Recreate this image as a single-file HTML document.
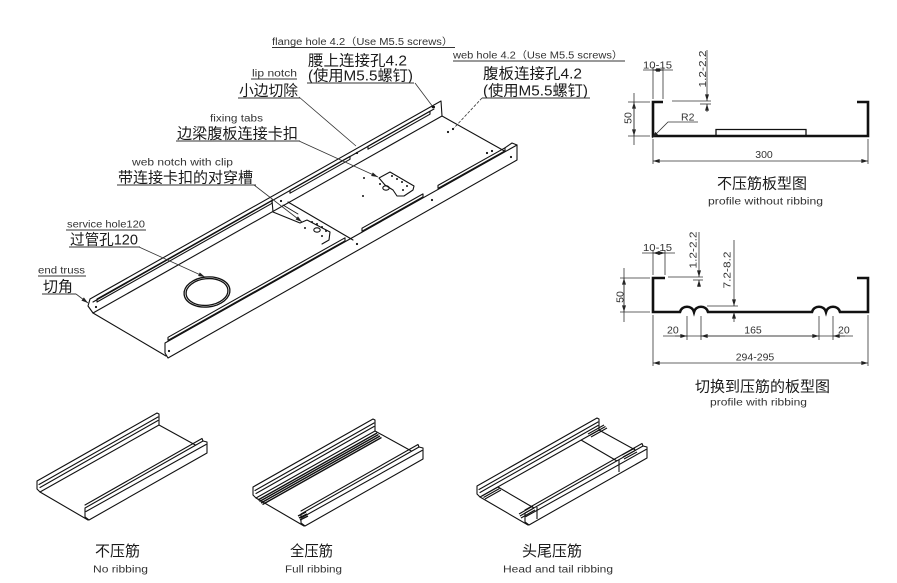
<!DOCTYPE html>
<html><head><meta charset="utf-8">
<style>
html,body{margin:0;padding:0;background:#fff;}
svg{display:block;}
text{font-family:"Liberation Sans","Noto Sans CJK SC",sans-serif;fill:#222;}
.en{font-size:10px;fill:#333;}
.cn{font-size:15px;fill:#1a1a1a;}
.dim{font-size:10.5px;fill:#333;}
</style></head><body>
<svg width="897" height="583" viewBox="0 0 897 583" xmlns="http://www.w3.org/2000/svg">
<defs>
<marker id="ar" viewBox="0 0 10 6" refX="10" refY="3" markerUnits="userSpaceOnUse" markerWidth="7" markerHeight="4" orient="auto-start-reverse"><path d="M0,0 L10,3 L0,6 z" fill="#222"/></marker>
<g id="tray">
  <path d="M37,481 L157,413 L159,414 L159,425 L40,492 L37,489 Z" fill="#fff"/>
  <path d="M39,484.5 L158,417 M40,487.5 L158,420.5"/>
  <path d="M40,492 L88,520 M159,425 L199,447"/>
  <path d="M85,508 L203,441 L207,442 L207,453 L89,520 L85,517 Z" fill="#fff"/>
  <path d="M86,511.5 L206,444.5 M85,505 L202,438.5 L203,441"/>
</g>
</defs>
<rect width="897" height="583" fill="#fff"/>

<!-- ===== MAIN TRAY ===== -->
<g fill="none" stroke="#111" stroke-width="1.1" stroke-linejoin="round" stroke-linecap="round">
  <path d="M90,299 L441,101 L442,116 L93,313 L88,306 Z" fill="#fff"/>
  <path d="M93,302 L434,109"/>
  <path d="M97,299 L272,200.3 L272,203.3 L97,302 Z"/>
  <path d="M290,190.2 L350,156.3 L350,159.3 L290,193.2 Z"/>
  <path d="M368,146.2 L430,111.2 L430,114.2 L368,149.2 Z"/>
  <path d="M93,313 L166,356"/>
  <path d="M442,116 L508,153"/>
  <path d="M165,343 L517,145 L517,160 L168,358 L165,353 Z" fill="#fff"/>
  <path d="M168,337.3 L345,237.8 L345,240.8 L168,340.3 Z"/>
  <path d="M362,228.2 L423,193.9 L423,196.9 L362,231.2 Z"/>
  <path d="M438,185.4 L505,147.8 L505,150.8 L438,188.4 Z"/>
  <path d="M505,147.8 L512,143 L517,145"/>
  <path d="M288,202 L353,240"/>
  <path d="M272,200 L273,212 L300,223 L307,220 L330,232 L329,240 L322,244"/>
  <path d="M283,205 L298,214" stroke-width="0.8"/>
  <path d="M379,178 L390,172 L414,186 L413,190 L404,196 L397,196 L393,190 L385,185 Z"/>
  <ellipse cx="317" cy="230" rx="3.2" ry="2.2"/>
  <ellipse cx="386" cy="188" rx="3.2" ry="2.2"/>
  <ellipse cx="207" cy="292" rx="23" ry="15" stroke-width="1.3" transform="rotate(-6 207 292)"/>
  <ellipse cx="207" cy="292" rx="21" ry="13.3" stroke-width="1.3" transform="rotate(-6 207 292)"/>
</g>
<g fill="#111">
  <circle cx="96" cy="307" r="1.1"/><circle cx="169" cy="351" r="1.1"/>
  <circle cx="281" cy="201" r="1.1"/><circle cx="357" cy="153" r="1.1"/>
  <circle cx="434" cy="107" r="1.1"/><circle cx="448" cy="132" r="1.1"/>
  <circle cx="453" cy="129" r="1.1"/><circle cx="487" cy="153" r="1.1"/>
  <circle cx="492" cy="151" r="1.1"/><circle cx="511" cy="157" r="1.1"/>
  <circle cx="432" cy="200" r="1.1"/><circle cx="357" cy="244" r="1.1"/>
  <circle cx="364" cy="178" r="1"/><circle cx="363" cy="196" r="1"/>
  <circle cx="392" cy="176" r="1"/><circle cx="397" cy="179" r="1"/><circle cx="402" cy="182" r="1"/>
  <circle cx="407" cy="186" r="1"/><circle cx="403" cy="190" r="1"/><circle cx="380" cy="184" r="1"/>
  <circle cx="312" cy="222" r="1"/><circle cx="317" cy="224" r="1"/><circle cx="322" cy="227" r="1"/>
  <circle cx="326" cy="231" r="1"/><circle cx="305" cy="228" r="1"/><circle cx="322" cy="236" r="1"/>
</g>

<g fill="none" stroke="#333" stroke-width="0.8">
  <path d="M299,97 L356,146"/>
  <path d="M299,141 L378,177" marker-end="url(#ar)"/>
  <path d="M254,185 L302,222" marker-end="url(#ar)"/>
  <path d="M415,83 L433,107"/>
  <path d="M482,98 L454,128" stroke-dasharray="3,1.5"/>
  <path d="M139,247 L205,277" marker-end="url(#ar)"/>
  <path d="M76,294 L88,303" marker-end="url(#ar)"/>
</g>
<circle cx="433" cy="107" r="1.3" fill="#111"/>

<g>
  <text class="en" x="272" y="45" textLength="181" lengthAdjust="spacingAndGlyphs">flange hole 4.2（Use M5.5 screws）</text>
  <text class="cn" x="308" y="65.5" textLength="99" lengthAdjust="spacingAndGlyphs">腰上连接孔4.2</text>
  <text class="cn" x="308" y="80.5" textLength="105" lengthAdjust="spacingAndGlyphs">(使用M5.5螺钉)</text>
  <text class="en" x="453" y="58.5" textLength="170" lengthAdjust="spacingAndGlyphs">web hole 4.2（Use M5.5 screws）</text>
  <text class="cn" x="483" y="78.5" textLength="99" lengthAdjust="spacingAndGlyphs">腹板连接孔4.2</text>
  <text class="cn" x="483" y="95.5" textLength="105" lengthAdjust="spacingAndGlyphs">(使用M5.5螺钉)</text>
  <text class="en" x="252" y="76.5" textLength="45" lengthAdjust="spacingAndGlyphs">lip notch</text>
  <text class="cn" x="239" y="95.5" textLength="59" lengthAdjust="spacingAndGlyphs">小边切除</text>
  <text class="en" x="210" y="121.5" textLength="53" lengthAdjust="spacingAndGlyphs">fixing tabs</text>
  <text class="cn" x="177" y="138.5" textLength="121" lengthAdjust="spacingAndGlyphs">边梁腹板连接卡扣</text>
  <text class="en" x="132" y="165.5" textLength="101" lengthAdjust="spacingAndGlyphs">web notch with clip</text>
  <text class="cn" x="118" y="182.5" textLength="135" lengthAdjust="spacingAndGlyphs">带连接卡扣的对穿槽</text>
  <text class="en" x="67" y="227.5" textLength="78" lengthAdjust="spacingAndGlyphs">service hole120</text>
  <text class="cn" x="70" y="244.5" textLength="68" lengthAdjust="spacingAndGlyphs">过管孔120</text>
  <text class="en" x="38" y="273.5" textLength="47" lengthAdjust="spacingAndGlyphs">end truss</text>
  <text class="cn" x="43" y="291.5" textLength="30" lengthAdjust="spacingAndGlyphs">切角</text>
</g>
<g stroke="#333" stroke-width="0.9">
  <line x1="272" y1="47.5" x2="455" y2="47.5"/>
  <line x1="307" y1="83" x2="414" y2="83"/>
  <line x1="453" y1="61" x2="625" y2="61"/>
  <line x1="482" y1="98" x2="590" y2="98"/>
  <line x1="251" y1="79" x2="297" y2="79"/>
  <line x1="238" y1="98" x2="300" y2="98"/>
  <line x1="176" y1="141" x2="300" y2="141"/>
  <line x1="117" y1="185" x2="256" y2="185"/>
  <line x1="66" y1="230" x2="146" y2="230"/>
  <line x1="69" y1="247" x2="140" y2="247"/>
  <line x1="38" y1="276" x2="86" y2="276"/>
  <line x1="42" y1="294" x2="76" y2="294"/>
</g>

<!-- ===== PROFILE 1 ===== -->
<g fill="none" stroke="#111" stroke-width="2.6" stroke-linejoin="miter">
  <path d="M663,102 L653,102 L653,136 L868,136 L868,102 L857,102"/>
  <path d="M716,136 L716,129.5 L806,129.5 L806,136" stroke-width="1.3"/>
</g>
<g fill="none" stroke="#333" stroke-width="0.8">
  <line x1="628" y1="102" x2="650" y2="102"/><line x1="628" y1="136" x2="650" y2="136"/>
  <line x1="634" y1="102" x2="634" y2="136" marker-start="url(#ar)" marker-end="url(#ar)"/>
  <line x1="634" y1="93" x2="634" y2="145"/>
  <line x1="653" y1="67" x2="653" y2="99"/><line x1="663" y1="67" x2="663" y2="99"/>
  <line x1="643" y1="70" x2="673" y2="70"/>
  <line x1="653" y1="70" x2="663" y2="70" marker-start="url(#ar)" marker-end="url(#ar)"/>
  <line x1="672" y1="101" x2="711" y2="101"/>
  <line x1="700" y1="104" x2="711" y2="104"/>
  <line x1="707" y1="50" x2="707" y2="101" marker-end="url(#ar)"/>
  <line x1="707" y1="112" x2="707" y2="104" marker-end="url(#ar)"/>
  <path d="M698,122 L668,122 L652,138" marker-end="url(#ar)"/>
  <line x1="653" y1="139" x2="653" y2="164"/><line x1="868" y1="139" x2="868" y2="164"/>
  <line x1="653" y1="161" x2="868" y2="161" marker-start="url(#ar)" marker-end="url(#ar)"/>
</g>
<text class="dim" transform="translate(631.5,118) rotate(-90)" text-anchor="middle">50</text>
<text class="dim" x="643" y="68.5" textLength="29" lengthAdjust="spacingAndGlyphs">10-15</text>
<text class="dim" transform="translate(706,69) rotate(-90)" text-anchor="middle" textLength="37" lengthAdjust="spacingAndGlyphs">1.2-2.2</text>
<text class="dim" x="681" y="120.5">R2</text>
<text class="dim" x="764" y="158" text-anchor="middle">300</text>
<text class="cn" x="717" y="188.5" textLength="90" lengthAdjust="spacingAndGlyphs">不压筋板型图</text>
<text class="en" x="708" y="204.5" textLength="115" lengthAdjust="spacingAndGlyphs">profile without ribbing</text>

<!-- ===== PROFILE 2 ===== -->
<g fill="none" stroke="#111" stroke-width="2.6" stroke-linejoin="miter">
  <path d="M665,278 L653,278 L653,312 L680,312 C682,305 692,305 694,312 C696,305 706,305 708,312 L812,312 C814,305 824,305 826,312 C828,305 838,305 840,312 L868,312 L868,278 L857,278"/>
</g>
<g fill="none" stroke="#333" stroke-width="0.8">
  <line x1="620" y1="278" x2="650" y2="278"/><line x1="620" y1="312" x2="650" y2="312"/>
  <line x1="624" y1="278" x2="624" y2="312" marker-start="url(#ar)" marker-end="url(#ar)"/>
  <line x1="624" y1="268" x2="624" y2="322"/>
  <line x1="653" y1="250" x2="653" y2="275"/><line x1="665" y1="250" x2="665" y2="275"/>
  <line x1="642" y1="253" x2="675" y2="253"/>
  <line x1="653" y1="253" x2="665" y2="253" marker-start="url(#ar)" marker-end="url(#ar)"/>
  <line x1="668" y1="277" x2="703" y2="277"/>
  <line x1="693" y1="280" x2="703" y2="280"/>
  <line x1="699" y1="232" x2="699" y2="277" marker-end="url(#ar)"/>
  <line x1="699" y1="287" x2="699" y2="280" marker-end="url(#ar)"/>
  <line x1="707" y1="306" x2="738" y2="306"/>
  <line x1="734" y1="240" x2="734" y2="306" marker-end="url(#ar)"/>
  <line x1="734" y1="322" x2="734" y2="312" marker-end="url(#ar)"/>
  <line x1="687" y1="316" x2="687" y2="340"/><line x1="701" y1="316" x2="701" y2="340"/>
  <line x1="819" y1="316" x2="819" y2="340"/><line x1="833" y1="316" x2="833" y2="340"/>
  <line x1="663" y1="336" x2="853" y2="336"/>
  <line x1="675" y1="336" x2="687" y2="336" marker-end="url(#ar)"/>
  <line x1="701" y1="336" x2="819" y2="336" marker-start="url(#ar)" marker-end="url(#ar)"/>
  <line x1="845" y1="336" x2="833" y2="336" marker-end="url(#ar)"/>
  <line x1="653" y1="315" x2="653" y2="366"/><line x1="868" y1="315" x2="868" y2="366"/>
  <line x1="653" y1="363" x2="868" y2="363" marker-start="url(#ar)" marker-end="url(#ar)"/>
</g>
<text class="dim" transform="translate(623.5,297) rotate(-90)" text-anchor="middle">50</text>
<text class="dim" x="643" y="251" textLength="29" lengthAdjust="spacingAndGlyphs">10-15</text>
<text class="dim" transform="translate(696.5,250) rotate(-90)" text-anchor="middle" textLength="37" lengthAdjust="spacingAndGlyphs">1.2-2.2</text>
<text class="dim" transform="translate(730.5,270) rotate(-90)" text-anchor="middle" textLength="37" lengthAdjust="spacingAndGlyphs">7.2-8.2</text>
<text class="dim" x="667" y="333.5">20</text>
<text class="dim" x="753" y="333.5" text-anchor="middle">165</text>
<text class="dim" x="838" y="333.5">20</text>
<text class="dim" x="755" y="360.5" text-anchor="middle">294-295</text>
<text class="cn" x="695" y="391.5" textLength="135" lengthAdjust="spacingAndGlyphs">切换到压筋的板型图</text>
<text class="en" x="710" y="405.5" textLength="97" lengthAdjust="spacingAndGlyphs">profile with ribbing</text>

<!-- ===== BOTTOM TRAYS ===== -->
<g fill="none" stroke="#111" stroke-width="1.1" stroke-linejoin="round" stroke-linecap="round">
  <use href="#tray"/>
  <use href="#tray" transform="translate(216,6)"/>
  <use href="#tray" transform="translate(440,5)"/>
</g>
<g fill="none" stroke="#111" stroke-width="1.4">
  <path d="M258,500 L377,433 M259.5,501.5 L378.5,434.5 M261,503 L380,436 M262.5,504.5 L381.5,437.5"/>
  <path d="M298,516 L306,512 M299,518 L307,514 M300,520 L308,516"/>
</g>
<g fill="none" stroke="#111" stroke-width="1.1">
  <path d="M498,487 L534,508 M581,440 L617,461"/>
  <path d="M537,507 L537,519 M619,460 L619,472" />
  <path d="M482,496 L498,487 M483.5,497.5 L499.5,488.5 M485,499 L501,490"/>
  <path d="M519,514 L533,506 M520,516 L534,508 M521,518 L535,510"/>
  <path d="M588,434 L604,425 M589.5,435.5 L605.5,426.5 M591,437 L607,428"/>
  <path d="M622,455 L635,448 M623,457 L636,450 M624,459 L637,452"/>
</g>
<text class="cn" x="95" y="556" textLength="45" lengthAdjust="spacingAndGlyphs">不压筋</text>
<text class="en" x="93" y="572.5" textLength="55" lengthAdjust="spacingAndGlyphs">No ribbing</text>
<text class="cn" x="290" y="556" textLength="43" lengthAdjust="spacingAndGlyphs">全压筋</text>
<text class="en" x="285" y="572.5" textLength="57" lengthAdjust="spacingAndGlyphs">Full ribbing</text>
<text class="cn" x="522" y="556" textLength="60" lengthAdjust="spacingAndGlyphs">头尾压筋</text>
<text class="en" x="503" y="572.5" textLength="110" lengthAdjust="spacingAndGlyphs">Head and tail ribbing</text>
</svg>
</body></html>
